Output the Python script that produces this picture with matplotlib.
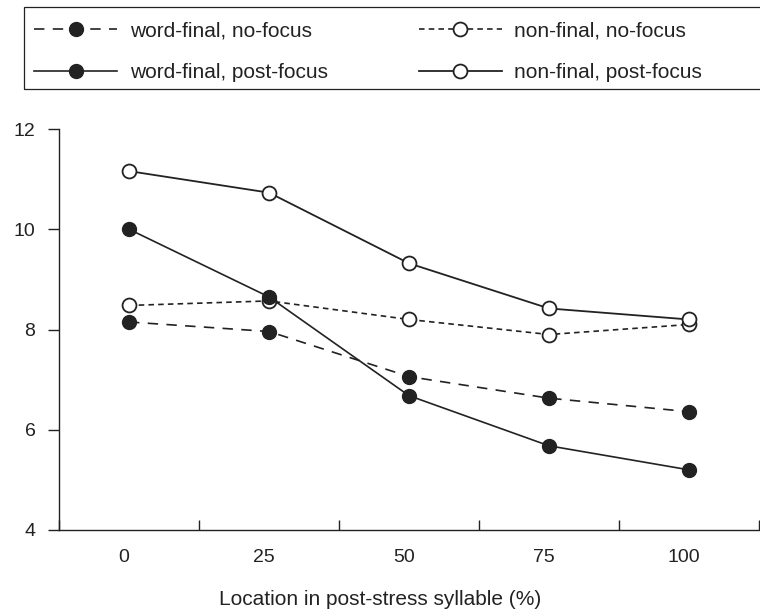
import matplotlib
matplotlib.use('Agg')
import matplotlib.pyplot as plt
import matplotlib.transforms as mtransforms
from matplotlib.patches import Rectangle

plt.rcParams['font.family'] = ['Liberation Sans', 'DejaVu Sans']
plt.rcParams['lines.scale_dashes'] = False

# measurement points along the post-stress syllable
locations = ['0', '25', '50', '75', '100']
wf_no_focus = [8.15, 7.96, 7.06, 6.63, 6.36]
nf_no_focus = [8.48, 8.57, 8.20, 7.90, 8.10]
wf_post_focus = [10.0, 8.65, 6.68, 5.68, 5.20]
nf_post_focus = [11.16, 10.73, 9.32, 8.42, 8.20]

ink = '#222222'
tick_fs = 14
text_fs = 15

fig = plt.figure(figsize=(7.6, 6.09), dpi=100)
ax = fig.add_axes([59 / 760, 79 / 609, 700 / 760, 401 / 609])
xs = list(range(len(locations)))

long_dash = (0, (7.5, 6))
short_dash = (0, (4, 3))

h_nf_no, = ax.plot(xs, nf_no_focus, color=ink, lw=1.2, ls=short_dash,
                   marker='o', ms=10, mfc='white', mec=ink, mew=1.3,
                   label='non-final, no-focus')
h_wf_no, = ax.plot(xs, wf_no_focus, color=ink, lw=1.2, ls=long_dash,
                   marker='o', ms=10, mfc=ink, mec=ink,
                   label='word-final, no-focus')
h_nf_post, = ax.plot(xs, nf_post_focus, color=ink, lw=1.3, ls='-',
                     marker='o', ms=10, mfc='white', mec=ink, mew=1.3,
                     label='non-final, post-focus')
h_wf_post, = ax.plot(xs, wf_post_focus, color=ink, lw=1.2, ls='-',
                     marker='o', ms=10, mfc=ink, mec=ink,
                     label='word-final, post-focus')

ax.set_xlim(-0.5, len(locations) - 0.5)
ax.set_ylim(4, 12)
ax.set_yticks([4, 6, 8, 10, 12])
ax.tick_params(axis='y', direction='out', length=8, width=1, color=ink,
               labelsize=tick_fs, labelcolor=ink, pad=9)

# tick marks sit between categories, labels sit on the categories
ax.set_xticks([i - 0.5 for i in range(len(locations) + 1)])
ax.set_xticklabels([])
ax.set_xticks(xs, minor=True)
ax.set_xticklabels(locations, minor=True)
ax.tick_params(axis='x', which='major', direction='in', length=7, width=1, color=ink)
ax.tick_params(axis='x', which='minor', length=0, labelsize=tick_fs, labelcolor=ink, pad=14)
nudge = mtransforms.ScaledTranslation(-5 / 100, 0, fig.dpi_scale_trans)
for lbl in ax.xaxis.get_minorticklabels():
    lbl.set_transform(lbl.get_transform() + nudge)

for side in ['top', 'right']:
    ax.spines[side].set_visible(False)
for side in ['left', 'bottom']:
    ax.spines[side].set_color(ink)
    ax.spines[side].set_linewidth(1)

ax.set_xlabel('Location in post-stress syllable (%)', fontsize=text_fs, color=ink)
ax.xaxis.set_label_coords((380 - 59) / 700, -(590 - 530) / 401)

fig.patches.append(Rectangle((24 / 760, 1 - 89 / 609), 740 / 760, 82 / 609,
                             transform=fig.transFigure, fill=False,
                             edgecolor=ink, linewidth=0.9))
fig.legend(handles=[h_wf_no, h_wf_post, h_nf_no, h_nf_post], ncol=2,
           loc='upper left', bbox_to_anchor=(24 / 760, 1 - 11 / 609),
           frameon=False, borderpad=0, fontsize=text_fs, handlelength=3.95,
           handletextpad=0.62, columnspacing=4.4, labelspacing=1.1,
           labelcolor=ink)

fig.savefig('out.png', dpi=100)
